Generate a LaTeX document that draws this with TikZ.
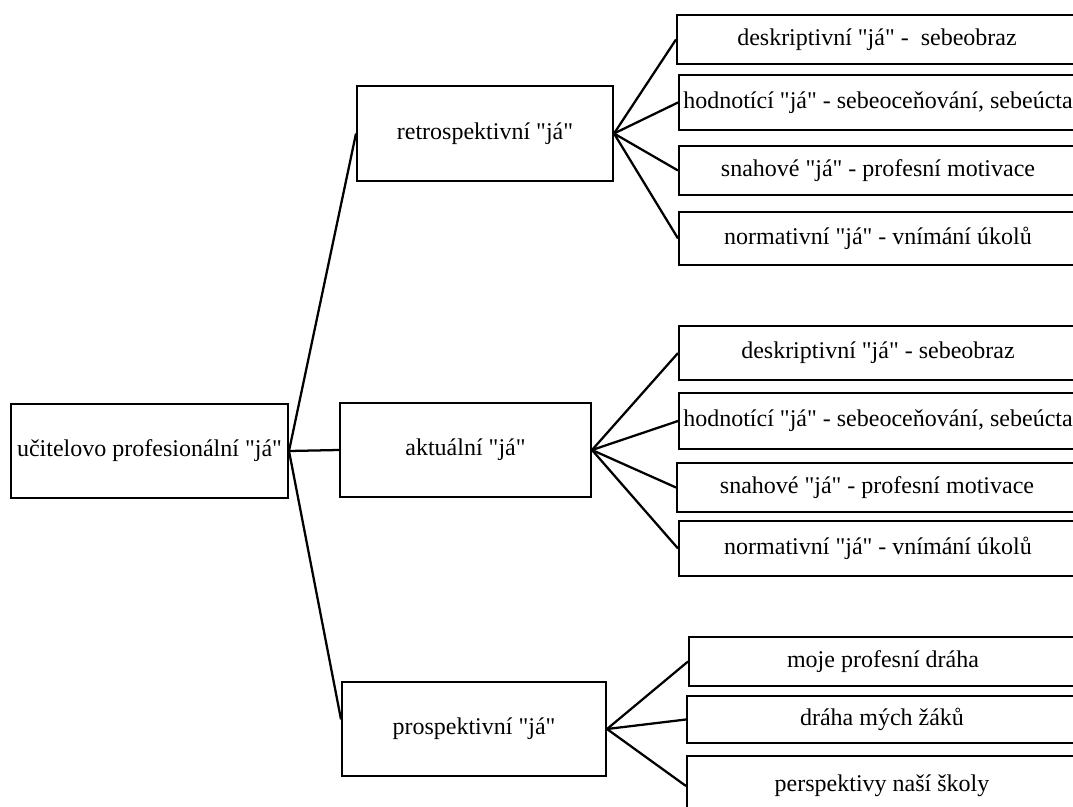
\documentclass[tikz,border=0pt]{standalone}
\usepackage{fontspec}
\setmainfont{Liberation Serif}[Ligatures=TeXOff]
\usetikzlibrary{calc}
\tikzset{
  box/.style={draw=black, line width=1.5pt, rectangle, inner sep=0pt, align=center, font=\fontsize{18}{21}\selectfont},
  link/.style={draw=black, line width=1.7pt}
}
\begin{document}
\begin{tikzpicture}[x=0.75pt,y=-0.75pt]
\useasboundingbox (0,0) rectangle (1073,806);
% main level
\node[box, minimum width=277*0.75pt, minimum height=94*0.75pt] (root) at (149.5,451) {u\v{c}itelovo profesionální "já"};
\node[box, minimum width=256*0.75pt, minimum height=95*0.75pt] (retro) at (485,133.5) {retrospektivní "já"};
\node[box, minimum width=251*0.75pt, minimum height=94*0.75pt] (akt) at (465.5,450) {aktuální "já"};
\node[box, minimum width=264*0.75pt, minimum height=94*0.75pt] (pros) at (474,729) {prospektivní "já"};
% group 1
\node[box, minimum width=400*0.75pt, minimum height=49*0.75pt] (b1) at (877,39.5) {deskriptivní "já" -\ \ sebeobraz};
\node[box, minimum width=398*0.75pt, minimum height=55*0.75pt] (b2) at (878,102.5) {hodnotící "já" - sebeoceňování, sebeúcta};
\node[box, minimum width=398*0.75pt, minimum height=49*0.75pt] (b3) at (878,170.5) {snahové "já" - profesní motivace};
\node[box, minimum width=398*0.75pt, minimum height=53*0.75pt] (b4) at (878,238.5) {normativní "já" - vnímání úkolů};
% group 2
\node[box, minimum width=398*0.75pt, minimum height=54*0.75pt] (c1) at (878,353) {deskriptivní "já" - sebeobraz};
\node[box, minimum width=398*0.75pt, minimum height=56*0.75pt] (c2) at (878,421) {hodnotící "já" - sebeoceňování, sebeúcta};
\node[box, minimum width=400*0.75pt, minimum height=49*0.75pt] (c3) at (877,487.5) {snahové "já" - profesní motivace};
\node[box, minimum width=398*0.75pt, minimum height=55*0.75pt] (c4) at (878,548.5) {normativní "já" - vnímání úkolů};
% group 3
\node[box, minimum width=388*0.75pt, minimum height=49*0.75pt] (d1) at (883,661.5) {moje profesní dráha};
\node[box, minimum width=390*0.75pt, minimum height=47*0.75pt] (d2) at (882,719.5) {dráha mých žáků};
\node[box, minimum width=390*0.75pt, minimum height=60*0.75pt] (d3) at (882,786) {perspektivy naší školy};
% connectors
\draw[link] (root.east) -- (retro.west);
\draw[link] (root.east) -- (akt.west);
\draw[link] (root.east) -- ($(pros.north west)!0.4!(pros.south west)$);
\foreach \t in {b1,b2,b3,b4} \draw[link] (retro.east) -- (\t.west);
\foreach \t in {c1,c2,c3,c4} \draw[link] (akt.east) -- (\t.west);
\foreach \t in {d1,d2,d3} \draw[link] (pros.east) -- (\t.west);
\end{tikzpicture}
\end{document}
